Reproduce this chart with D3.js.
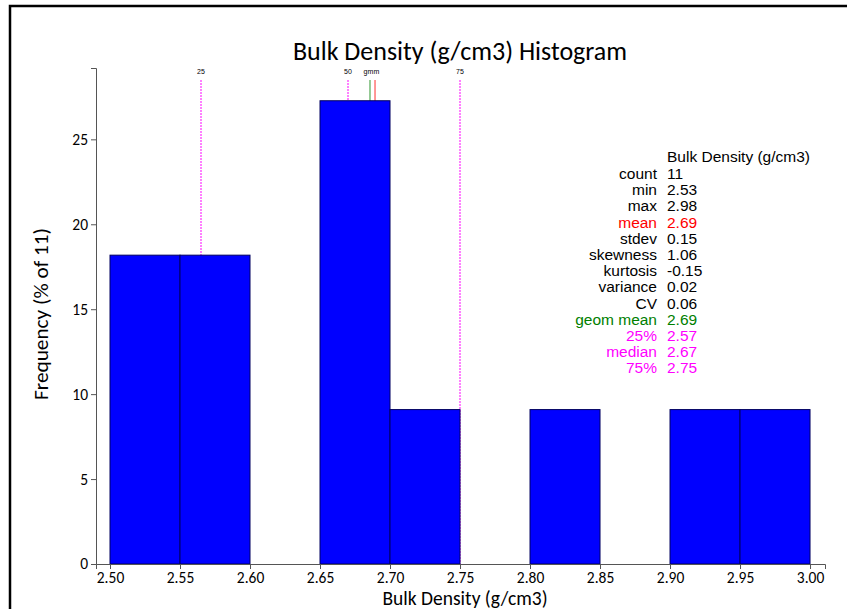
<!DOCTYPE html>
<html>
<head>
<meta charset="utf-8">
<script src="https://cdn.jsdelivr.net/npm/d3@7"></script>
<style>
body { margin: 0; background: #fff; }
svg { display: block; }
.axis text { font-family: Carlito, Lato, sans-serif; font-size: 15.5px; fill: #000; }
.axis path, .axis line { stroke: #555; }
.stats text { font-family: "Liberation Sans", Arial, sans-serif; font-size: 15.5px; }
</style>
</head>
<body>
<svg id="chart"></svg>
<script>
// histogram bins (lower edge, upper edge) and counts
var binStart = [2.50, 2.55, 2.65, 2.70, 2.80, 2.90, 2.95],
    binEnd   = [2.55, 2.60, 2.70, 2.75, 2.85, 2.95, 3.00],
    binCount = [2, 2, 3, 1, 1, 1, 1],
    total = 11;

var xTicks = [2.50, 2.55, 2.60, 2.65, 2.70, 2.75, 2.80, 2.85, 2.90, 2.95, 3.00],
    yTicks = [0, 5, 10, 15, 20, 25];

// marker lines: label, value, colour
var markLabels = ['25', '50', 'gm', 'm', '75'],
    markValues = [2.565, 2.67, 2.6857, 2.6893, 2.75],
    markColors = ['#ff00ff', '#ff00ff', '#008000', '#ff0000', '#ff00ff'],
    markDashed = [true, true, false, false, true];

// stats table
var statNames  = ['count', 'min', 'max', 'mean', 'stdev', 'skewness', 'kurtosis', 'variance', 'CV', 'geom mean', '25%', 'median', '75%'],
    statValues = ['11', '2.53', '2.98', '2.69', '0.15', '1.06', '-0.15', '0.02', '0.06', '2.69', '2.57', '2.67', '2.75'],
    statColors = ['#000', '#000', '#000', '#ff0000', '#000', '#000', '#000', '#000', '#000', '#008000', '#ff00ff', '#ff00ff', '#ff00ff'];

var W = 847, H = 609;
var svg = d3.select('#chart').attr('width', W).attr('height', H);

// outer frame (left + top only)
svg.append('path')
    .attr('d', 'M10,' + H + ' L10,6 L' + W + ',6')
    .attr('fill', 'none').attr('stroke', '#000').attr('stroke-width', 2.5);

var x = d3.scaleLinear().domain([2.49, 3.0107]).range([96, 825]);
var y = d3.scaleLinear().domain([0, 29.2]).range([564, 68]);

// marker lines go under the bars
var marks = svg.append('g').selectAll('g').data(markValues).enter().append('g');
marks.append('line')
    .attr('x1', function(d) { return x(d); }).attr('x2', function(d) { return x(d); })
    .attr('y1', 80).attr('y2', y(0))
    .attr('stroke', function(d, i) { return markColors[i]; })
    .attr('stroke-opacity', function(d, i) { return markDashed[i] ? 1 : 0.55; })
    .attr('stroke-width', function(d, i) { return markDashed[i] ? 1 : 1.5; })
    .attr('stroke-dasharray', function(d, i) { return markDashed[i] ? '2,1' : null; });
marks.append('text')
    .attr('x', function(d, i) { return x(d) + (i == 2 ? -1.5 : (i == 3 ? 1.5 : 0)); })
    .attr('y', 74)
    .attr('text-anchor', 'middle')
    .style('font-family', 'Liberation Sans, Arial, sans-serif')
    .style('font-size', '7px')
    .text(function(d, i) { return markLabels[i]; });

// bars
svg.append('g').selectAll('rect').data(binCount).enter().append('rect')
    .attr('x', function(d, i) { return x(binStart[i]); })
    .attr('width', function(d, i) { return x(binEnd[i]) - x(binStart[i]); })
    .attr('y', function(d) { return y(d / total * 100); })
    .attr('height', function(d) { return y(0) - y(d / total * 100); })
    .attr('fill', '#0000ff')
    .attr('stroke', '#000060')
    .attr('stroke-width', 1);

// axes
var xAxis = svg.append('g').attr('class', 'axis')
    .attr('transform', 'translate(0,' + y(0) + ')')
    .call(d3.axisBottom(x).tickValues(xTicks).tickFormat(d3.format('.2f')).tickSizeOuter(0).tickSize(5));
xAxis.selectAll('text').attr('dy', '0.72em');

var yAxis = svg.append('g').attr('class', 'axis')
    .attr('transform', 'translate(' + x(2.49) + ',0)')
    .call(d3.axisLeft(y).tickValues(yTicks).tickSizeOuter(0).tickSize(5));

// titles
svg.append('text')
    .attr('x', 460).attr('y', 60)
    .attr('text-anchor', 'middle')
    .style('font-family', 'Carlito, Lato, sans-serif').style('font-size', '26px')
    .text('Bulk Density (g/cm3) Histogram');
svg.append('text')
    .attr('x', 465).attr('y', 605)
    .attr('text-anchor', 'middle')
    .style('font-family', 'Carlito, Lato, sans-serif').style('font-size', '19.5px')
    .text('Bulk Density (g/cm3)');
svg.append('text')
    .attr('transform', 'translate(48,314) rotate(-90)')
    .attr('text-anchor', 'middle')
    .attr('textLength', 172).attr('lengthAdjust', 'spacingAndGlyphs')
    .style('font-family', 'Carlito, Lato, sans-serif').style('font-size', '21px')
    .text('Frequency (% of 11)');

// stats block
var stats = svg.append('g').attr('class', 'stats');
stats.append('text').attr('x', 667).attr('y', 162).text('Bulk Density (g/cm3)');
var rows = stats.selectAll('g.row').data(statNames).enter().append('g').attr('class', 'row')
    .attr('transform', function(d, i) { return 'translate(0,' + (179 + i * 16.2) + ')'; });
rows.append('text').attr('x', 657).attr('text-anchor', 'end')
    .attr('fill', function(d, i) { return statColors[i]; })
    .text(function(d) { return d; });
rows.append('text').attr('x', 667)
    .attr('fill', function(d, i) { return statColors[i]; })
    .text(function(d, i) { return statValues[i]; });
</script>
</body>
</html>
